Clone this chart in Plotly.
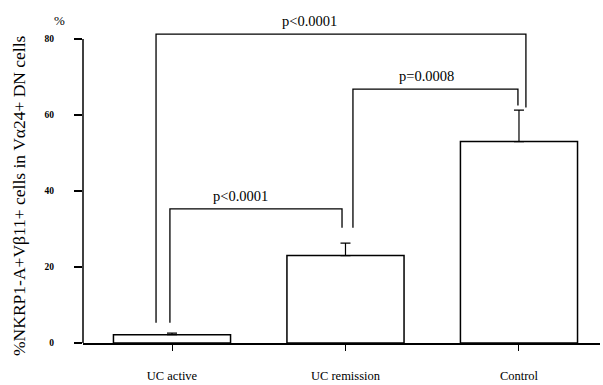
import plotly.graph_objects as go

# Group means and upper error (SEM) of the percentage of NKRP1-A+ Vβ11+ cells
categories = ["UC active", "UC remission", "Control"]
means = [2.2, 23.0, 53.0]
errors = [0.4, 3.3, 8.3]

# Pairwise comparisons: (left group, right group, label)
comparisons = [
    (0, 2, "p<0.0001"),
    (0, 1, "p<0.0001"),
    (1, 2, "p=0.0008"),
]

y_ticks = [0, 20, 40, 60, 80]

# Bracket geometry for each comparison (bar-offsets and heights in axis units)
bracket_style = [
    dict(dx_left=-0.092, dx_right=0.040, top=81.3, left_end=5.3, right_end=62.0, label_dx=-0.18),
    dict(dx_left=-0.012, dx_right=-0.020, top=35.3, left_end=5.3, right_end=30.3, label_dx=-0.09),
    dict(dx_left=0.043, dx_right=-0.006, top=66.8, left_end=30.3, right_end=62.5, label_dx=-0.05),
]

SERIF = "Liberation Serif"
x_pos = list(range(len(categories)))

fig = go.Figure()
fig.add_trace(go.Bar(
    x=x_pos,
    y=means,
    width=0.675,
    marker=dict(color="white", line=dict(color="black", width=1.5)),
    error_y=dict(type="data", array=errors, arrayminus=[0] * len(errors),
                 symmetric=False, color="black", thickness=1.2, width=5),
    showlegend=False,
))

shapes = []
annotations = []
for (a, b, label), st in zip(comparisons, bracket_style):
    xl = x_pos[a] + st["dx_left"]
    xr = x_pos[b] + st["dx_right"]
    path = (f"M {xl},{st['left_end']} L {xl},{st['top']} "
            f"L {xr},{st['top']} L {xr},{st['right_end']}")
    shapes.append(dict(type="path", path=path, xref="x", yref="y",
                       line=dict(color="black", width=1.3)))
    annotations.append(dict(
        x=(xl + xr) / 2 + st["label_dx"], y=st["top"], xref="x", yref="y",
        text=label, showarrow=False, yanchor="bottom", yshift=3,
        font=dict(family=SERIF, size=14.5, color="black"),
    ))

# Vertical axis line only up to the top tick
shapes.append(dict(type="line", xref="paper", yref="y", x0=0, x1=0, y0=0, y1=80,
                   line=dict(color="black", width=1.5)))

# Unit marker above the axis
annotations.append(dict(x=-0.046, y=1.0, xref="paper", yref="paper", text="%",
                        showarrow=False, xanchor="center", yanchor="middle",
                        font=dict(family=SERIF, size=13, color="black")))

# Axis title
annotations.append(dict(x=-0.124, y=0.458, xref="paper", yref="paper",
                        text="%NKRP1-A+Vβ11+ cells in Vα24+ DN cells",
                        textangle=-90, showarrow=False,
                        xanchor="center", yanchor="middle",
                        font=dict(family=SERIF, size=17.5, color="black")))

fig.update_layout(
    width=603, height=385,
    margin=dict(l=83, r=3, t=20, b=42),
    paper_bgcolor="white", plot_bgcolor="white",
    shapes=shapes, annotations=annotations,
    xaxis=dict(
        range=[-0.513, 2.467], tickvals=x_pos, ticktext=categories,
        showline=True, linecolor="black", linewidth=1.5,
        ticks="outside", ticklen=6, tickcolor="black", tickwidth=1,
        ticklabelstandoff=14,
        showgrid=False, zeroline=False,
        tickfont=dict(family=SERIF, size=12.5, color="black"),
    ),
    yaxis=dict(
        range=[0, 85], tickvals=y_ticks,
        showline=False, ticks="outside", ticklen=8, tickcolor="black", tickwidth=1.5,
        ticklabelstandoff=18,
        showgrid=False, zeroline=False,
        tickfont=dict(family=SERIF, size=9.5, color="black", weight="bold"),
    ),
)

fig.write_html("out.html")
